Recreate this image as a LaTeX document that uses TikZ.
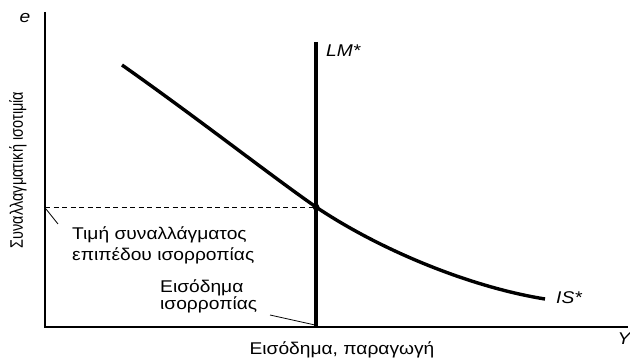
\documentclass[tikz,border=0pt]{standalone}
\usepackage{fontspec}
\setmainfont{Liberation Sans}
\newfontfamily\widesans[FakeStretch=1.13]{Liberation Sans}
\begin{document}
\begin{tikzpicture}[x=1pt,y=-1pt,
  lbl/.style={inner sep=0pt,font=\widesans\fontsize{17}{21}\selectfont},
  ilbl/.style={inner sep=0pt,font=\widesans\fontsize{17}{21}\selectfont\itshape},
  axis/.style={line width=1.3pt},
  curve/.style={line width=3.4pt},
  pointer/.style={line width=0.8pt}]
\useasboundingbox (0,0) rectangle (630,358);
% points
\coordinate (O) at (45,327);
\coordinate (ytop) at (45,12);
\coordinate (xend) at (628,327);
\coordinate (E) at (316,207);
\coordinate (Ey) at (45,207);
\coordinate (lmtop) at (316,42);
\coordinate (lmbot) at (316,327);
\coordinate (isA) at (122,65);
\coordinate (isB) at (545,299);
\coordinate (p1a) at (46,209);
\coordinate (p1b) at (58,224);
\coordinate (p2a) at (270,315);
\coordinate (p2b) at (315,325);
% axes
\draw[axis] (ytop) -- (O) -- (xend);
% LM
\draw[line width=4pt] (lmtop) -- (lmbot);
% IS
\draw[curve] (isA) .. controls (200,120) and (270,175) .. (E)
             .. controls (380,250) and (470,287) .. (isB);
% dashed
\draw[line width=0.9pt,dash pattern=on 5pt off 3.5pt] (Ey) -- (E);
\fill (E) circle (3.4);
% pointers
\draw[pointer] (p1a) -- (p1b);
\draw[pointer] (p2a) -- (p2b);
% labels
\node[ilbl] (e) at (25,18) {e};
\node[ilbl] (Y) at (624,339) {Y};
\node[ilbl,anchor=west] (LM) at (326,51) {LM*};
\node[ilbl,anchor=west] (IS) at (556,298) {IS*};
\node[inner sep=0pt,font=\fontsize{14.5}{17}\selectfont] (ylab) at (18,170)
  {\rotatebox{90}{\scalebox{1}[1.25]{Συναλλαγματική ισοτιμία}}};
\node[lbl] (xlab) at (342,350) {Εισόδημα, παραγωγή};
\node[lbl,align=left,anchor=north west] (tim) at (72,226) {Τιμή συναλλάγματος\\επιπέδου ισορροπίας};
\node[lbl,font=\widesans\fontsize{17}{17.5}\selectfont,align=left,anchor=north west] (eis) at (160,279) {Εισόδημα\\ισορροπίας};
\end{tikzpicture}
\end{document}
